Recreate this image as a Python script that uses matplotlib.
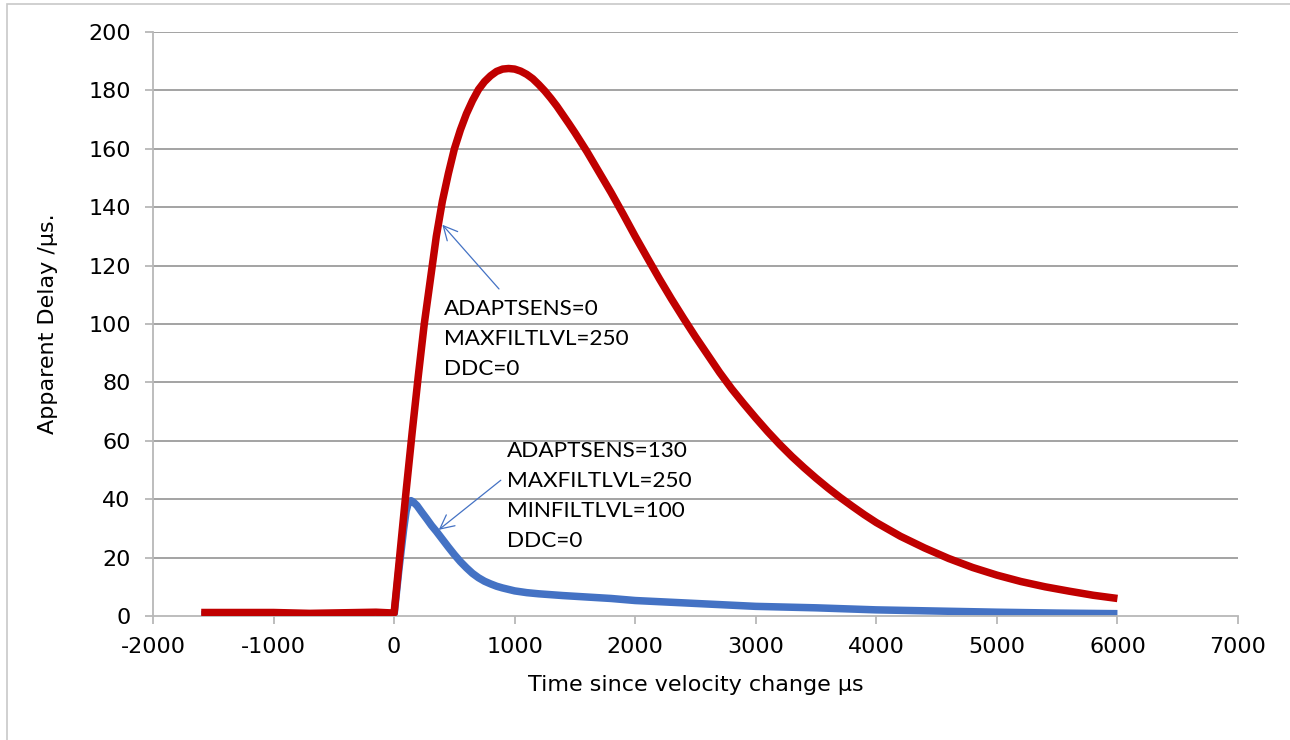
import matplotlib
matplotlib.use("Agg")
import matplotlib.pyplot as plt
from matplotlib.patches import Rectangle

# Apparent delay after a velocity step, two filter configurations
time_red = [-1600, -1000, -700, -150, 0, 50, 100, 150, 200, 250, 300, 350, 400,
            450, 500, 550, 600, 650, 700, 750, 800, 850, 900, 950, 1000, 1050,
            1100, 1150, 1200, 1250, 1300, 1350, 1400, 1450, 1500, 1600, 1700,
            1800, 1900, 2000, 2100, 2200, 2300, 2400, 2500, 2600, 2700, 2800,
            2900, 3000, 3100, 3200, 3300, 3400, 3500, 3600, 3700, 3800, 3900,
            4000, 4200, 4400, 4600, 4800, 5000, 5200, 5400, 5600, 5800, 6000]
delay_red = [1.2, 1.2, 0.9, 1.3, 1.0, 22, 43, 63, 82, 100, 115, 130, 142,
             151.5, 160, 166.5, 172, 176.5, 180.3, 183, 185, 186.5, 187.3, 187.5, 187.3, 186.6,
             185.5, 184, 182, 179.8, 177.3, 174.6, 171.6, 168.6, 165.5, 159, 152,
             145, 137.6, 130, 122.7, 115.5, 108.6, 102, 95.6, 89.5, 83.4, 77.8,
             72.7, 67.8, 63.1, 58.7, 54.6, 50.8, 47.2, 43.8, 40.6, 37.6, 34.7,
             32, 27.3, 23.3, 19.7, 16.6, 14, 11.8, 10, 8.5, 7.1, 6]

time_blue = [-1600, 0, 40, 80, 100, 120, 140, 160, 190, 230, 270, 310, 350, 400,
             450, 500, 550, 600, 650, 700, 750, 800, 850, 900, 1000, 1100, 1200,
             1400, 1600, 1800, 2000, 2500, 3000, 3500, 4000, 4500, 5000, 5500, 6000]
delay_blue = [0.5, 0.5, 16, 30, 36, 39, 39.5, 39, 37.8, 35.5, 33.3, 31, 29, 26.3,
              23.6, 21, 18.6, 16.5, 14.6, 13.1, 11.9, 11, 10.2, 9.6, 8.6, 8, 7.6,
              7, 6.5, 6, 5.3, 4.3, 3.3, 2.8, 2.1, 1.7, 1.3, 1.0, 0.8]

x_ticks = [-2000, -1000, 0, 1000, 2000, 3000, 4000, 5000, 6000, 7000]
y_ticks = [0, 20, 40, 60, 80, 100, 120, 140, 160, 180, 200]

label_red = "ADAPTSENS=0\nMAXFILTLVL=250\nDDC=0"
label_blue = "ADAPTSENS=130\nMAXFILTLVL=250\nMINFILTLVL=100\nDDC=0"

RED = "#C00000"
BLUE = "#4472C4"
W, H = 1290, 740

plt.rcParams["font.family"] = ["DejaVu Sans"]
plt.rcParams["axes.unicode_minus"] = False
fig = plt.figure(figsize=(W / 100, H / 100), dpi=100)
ax = fig.add_axes([153 / W, 1 - 616 / H, (1238 - 153) / W, (616 - 32) / H])

# chart border (left and top edges)
fig.patches.append(Rectangle((7 / W, -0.1), 1.2, 1 - 4 / H + 0.1,
                             transform=fig.transFigure, fill=False,
                             edgecolor="#c8c8c8", linewidth=1.2))

for yv in y_ticks[1:]:
    ax.axhline(yv, color="#8a8a8a", linewidth=1.1, zorder=0)

ax.plot(time_blue, delay_blue, color=BLUE, linewidth=5.4,
        solid_capstyle="butt", solid_joinstyle="round", zorder=2)
ax.plot(time_red, delay_red, color=RED, linewidth=5.4,
        solid_capstyle="butt", solid_joinstyle="round", zorder=3)

ax.set_xlim(-2000, 7000)
ax.set_ylim(0, 200)
ax.set_xticks(x_ticks)
ax.set_yticks(y_ticks)
for s in ("top", "right"):
    ax.spines[s].set_visible(False)
for s in ("left", "bottom"):
    ax.spines[s].set_color("#b8b8b8")
    ax.spines[s].set_linewidth(1.3)
ax.tick_params(axis="both", direction="out", length=6, width=1.3,
               color="#b8b8b8", labelsize=16, labelcolor="black")
ax.tick_params(axis="y", pad=10)
ax.tick_params(axis="x", pad=9)

ax.set_xlabel("Time since velocity change µs", fontsize=16, labelpad=13)
ax.set_ylabel("Apparent Delay /µs.", fontsize=16, labelpad=22)

ann_font = dict(family="Lato", fontsize=16.2, color="black", linespacing=1.62)
ax.annotate("", xy=(400, 134), xytext=(870, 112),
            arrowprops=dict(arrowstyle="->,head_length=1.0,head_width=0.5",
                            color=BLUE, lw=0.9, shrinkA=0, shrinkB=0))
ax.text(415, 108.5, label_red, va="top", ha="left", **ann_font)

ax.annotate("", xy=(370, 29.5), xytext=(885, 46.5),
            arrowprops=dict(arrowstyle="->,head_length=1.0,head_width=0.5",
                            color=BLUE, lw=0.9, shrinkA=0, shrinkB=0))
ax.text(935, 60, label_blue, va="top", ha="left", **ann_font)

fig.savefig("out.png", dpi=100)
